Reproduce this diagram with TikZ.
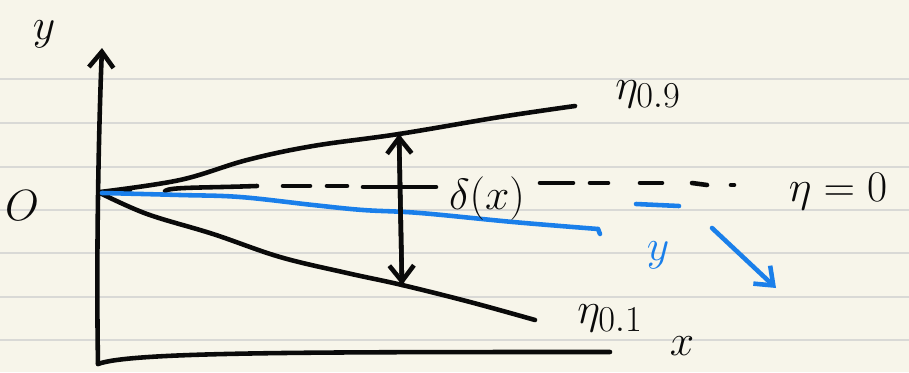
\documentclass[tikz,border=0pt]{standalone}
\usepackage{amsmath}
\usetikzlibrary{arrows.meta}
\definecolor{paper}{HTML}{F7F5EA}
\definecolor{rule}{HTML}{D9D9D6}
\definecolor{pen}{HTML}{0A0A0A}
\definecolor{bluepen}{HTML}{1A7FEA}
\tikzset{
  stroke/.style={line width=2.6pt, line cap=round, line join=round, color=pen},
  bluestroke/.style={line width=2.6pt, line cap=round, line join=round, color=bluepen},
  lbl/.style={inner sep=0pt, font=\fontsize{28}{32}\selectfont, text=pen},
  bluelbl/.style={inner sep=0pt, font=\fontsize{28}{32}\selectfont, text=bluepen},
  barb/.style={-{Straight Barb[length=9pt,width=14pt,line width=2.6pt]}},
}
\begin{document}
\begin{tikzpicture}[x=0.02cm,y=-0.02cm]
\fill[paper] (0,0) rectangle (909,372);
\useasboundingbox (0,0) rectangle (909,372);
% ruled lines
\foreach \yy in {79,123,167,210,253,297,340}
  \draw[rule, line width=1pt] (0,\yy) -- (909,\yy);
% coordinates
\coordinate (o) at (100,192);
\coordinate (ytop) at (102,48);
\coordinate (corner) at (98,364);
\coordinate (xend) at (610,352);
\coordinate (u1) at (399,134);
\coordinate (l1) at (402,285);
\coordinate (uend) at (575,106);
\coordinate (lend) at (535,320);
\coordinate (bend) at (600,234);
% axes
\draw[stroke, barb] (corner) .. controls (96,250) and (99,120) .. (ytop);
\draw[stroke] (corner) .. controls (130,352) and (300,352) .. (xend);
% upper curve
\draw[stroke] plot[smooth, tension=0.6] coordinates
  {(100,192) (180,180) (247,160) (313,146) (399,134) (500,117) (575,106)};
% lower curve
\draw[stroke] plot[smooth, tension=0.6] coordinates
  {(100,193) (147,214) (213,234) (280,257) (347,273) (402,285) (470,302) (535,320)};
% dashed line (hand-drawn dashes)
\draw[stroke] (108,191) -- (112,191);
\draw[stroke] (120,190) -- (130,190);
\draw[stroke] (165,191) .. controls (170,187) and (200,188) .. (257,186);
\draw[stroke] (283,186) -- (310,186);
\draw[stroke] (327,186) -- (347,186);
\draw[stroke] (363,187) -- (436,187);
\draw[stroke] (540,183) -- (573,183);
\draw[stroke] (590,183) -- (608,183);
\draw[stroke] (640,183) -- (662,183);
\draw[stroke] (692,183) -- (707,185);
\draw[stroke] (731,185) -- (734,185);
% blue line
\draw[bluestroke] plot[smooth, tension=0.6] coordinates
  {(102,193) (180,195) (240,197) (313,205) (363,210) (420,213) (513,222) (598,229)};
\draw[bluestroke] (598,229) -- (bend);
% double arrow
\draw[stroke, barb] (l1) -- (u1);
\draw[stroke, barb] (u1) -- (l1);
% labels
\node[lbl] (ylab) at (44,34) {$y$};
\node[lbl] (olab) at (22,206) {$O$};
\node[lbl] (xlab) at (682,346) {$x$};
\node[lbl] (delta) at (487,199) {$\delta(x)$};
\node[lbl] (eta9) at (648,94) {$\eta_{0.9}$};
\node[lbl] (eta1) at (610,318) {$\eta_{0.1}$};
\node[lbl, font=\fontsize{30}{34}\selectfont] (eta0) at (838,192) {$\eta = 0$};
% blue marks
\coordinate (bd1) at (636,204);
\coordinate (bd2) at (679,206);
\draw[bluestroke] (bd1) -- (bd2);
\node[bluelbl] (ybl) at (658,255) {$y$};
\coordinate (ba1) at (712,228);
\coordinate (ba2) at (776,288);
\draw[bluestroke, -{Straight Barb[length=9pt,width=14pt,line width=2.6pt]}] (ba1) -- (ba2);
\end{tikzpicture}
\end{document}
